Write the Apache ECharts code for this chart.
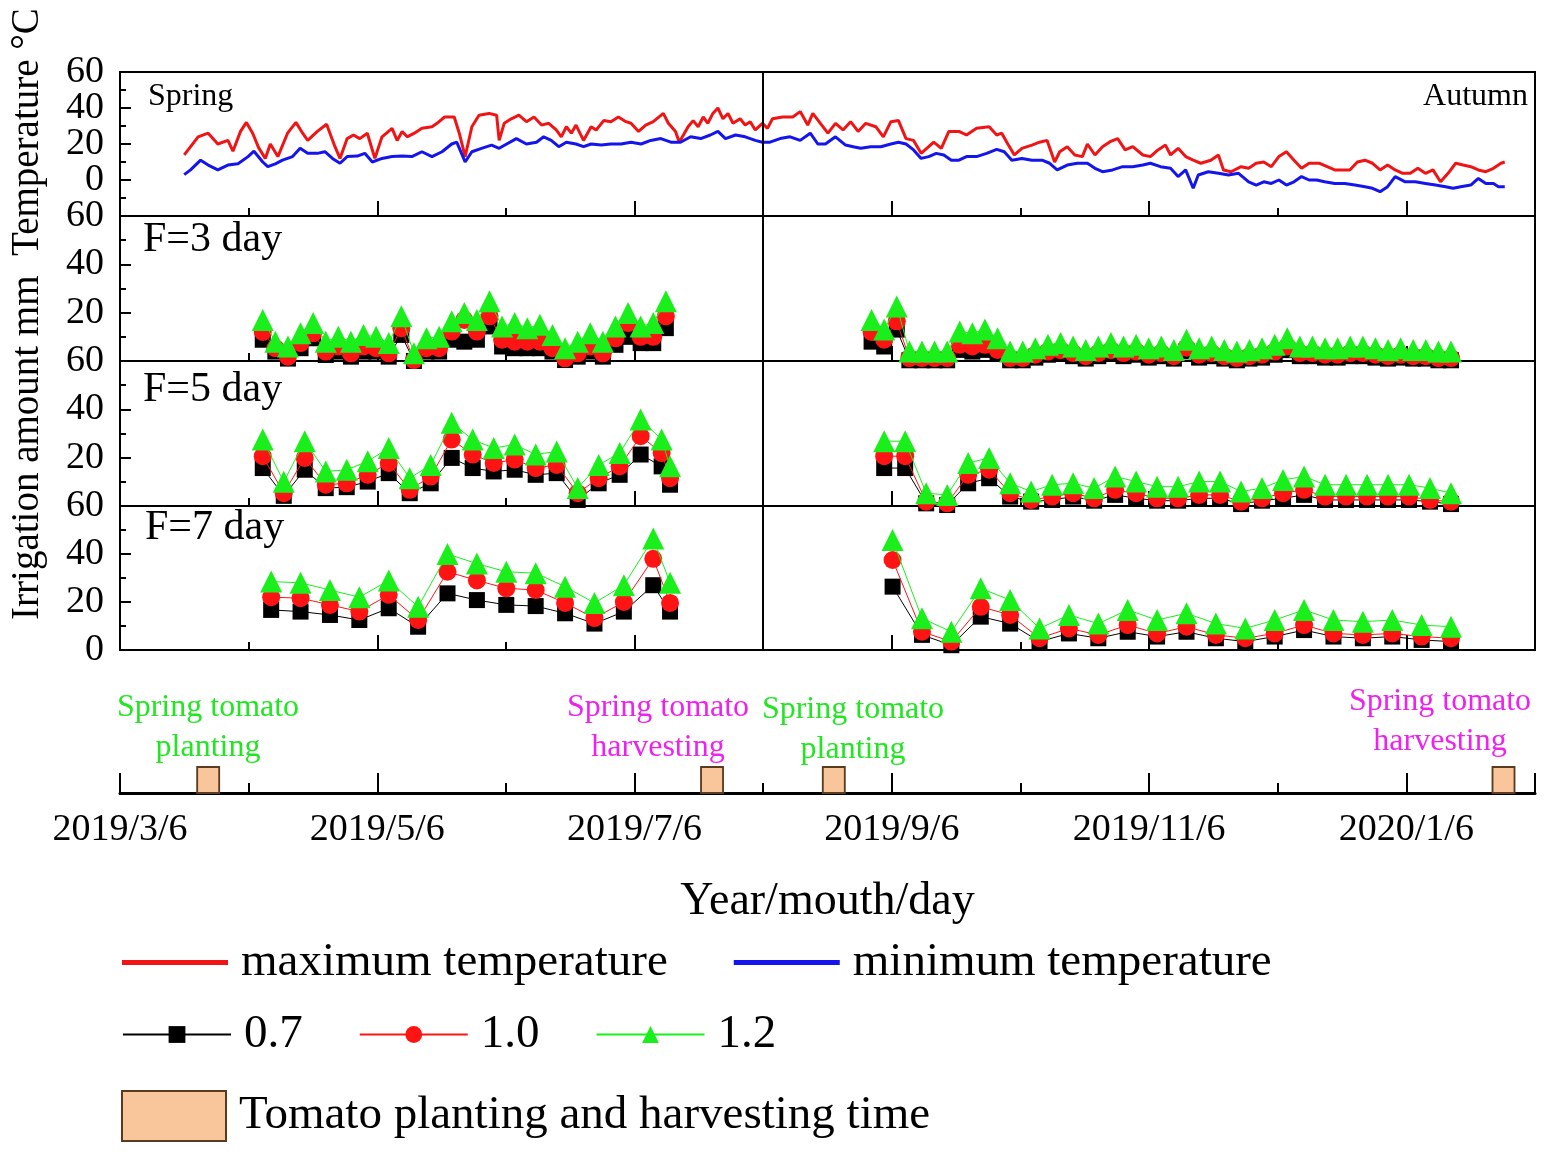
<!DOCTYPE html>
<html>
<head>
<meta charset="utf-8">
<script src="https://cdn.jsdelivr.net/npm/echarts/dist/echarts.min.js"></script>
<style>
html,body{margin:0;padding:0;background:#fff;}
#main{width:1547px;height:1155px;}
</style>
</head>
<body>
<div id="main"></div>
<script>
// x values are days counted from 2019/3/6
var tickLabels = ['2019/3/6','2019/4/6','2019/5/6','2019/6/6','2019/7/6','2019/8/6',
                  '2019/9/6','2019/10/6','2019/11/6','2019/12/6','2020/1/6','2020/2/6'];
var xMax = 337;            // 2020/2/6
var seasonSplit = 153;     // 2019/8/6

// daily max / min temperature, [day, °C]
var tmax = [[15.3,14],[18.6,24],[21,26],[23.3,20],[25.7,22],[26.9,16],[28.7,27],[30.1,32],[31.6,26],[33,18],[34.6,12],[35.8,20],[37.6,13],[39.9,26],[41.9,32],[43.5,26],[44.7,22],[47,27],[49.2,31],[51.2,18.5],[52.4,12],[54.1,23],[55.6,25],[57.1,23],[58.9,26],[60.7,12],[62.4,24],[64.8,28.7],[66,22],[67.2,27],[68.4,24],[70.1,26],[71.9,28.7],[74.3,29.6],[75.5,31.5],[77.3,35],[79.6,35],[80.8,26],[82.2,13],[83.8,29.6],[85.5,36],[87.9,37],[89.7,36],[90.3,22],[91.5,31.5],[93.2,34],[95,36],[96.8,32.4],[98.6,35],[100.4,30.5],[102.1,31.5],[103.9,27.8],[105.1,24],[106.3,29.6],[107.5,26],[108.6,30.5],[110.4,22],[112.2,29.6],[113.4,27.8],[115.2,33],[116.9,32.4],[118.7,35],[120.5,32.4],[121.7,31.5],[123.5,27],[125.2,30.5],[127,32.4],[129.4,37],[130.6,31.5],[132.3,27],[133.2,21],[135.3,29.6],[136.5,33],[137.7,29.6],[138.9,35],[140,31.5],[141.2,37],[142.4,40],[143.6,34],[144.8,37],[146,31.5],[147.7,34],[148.9,30.5],[150.1,32.4],[151.3,27.8],[153,31.5],
  [154.2,28.7],[155.4,34],[157.8,35],[160.2,35],[162,38],[163.8,30.5],[165,37],[166.8,31.5],[168.6,26],[170.4,31.5],[172.2,27.8],[174,32.4],[175.8,27],[177.6,31.5],[180,29.6],[181.8,24],[183.6,32.4],[185.4,33],[187.2,23],[189,22],[190.8,14.8],[192.6,18.5],[193.8,21],[195.6,17.6],[197.4,27],[199.8,27],[201.6,25],[204,28.7],[207,29.6],[208.8,25],[210,26],[211.2,21],[213,13.9],[214.8,17.6],[217.2,19.4],[219,21],[220.8,22],[222.6,10],[223.8,15.7],[225.6,18.5],[227.4,13.9],[229.2,13],[230.4,20],[232.2,13.9],[234,18.5],[235.8,21.3],[237.6,23],[239.4,16.7],[241.2,18.5],[243.6,13.9],[245.4,13],[247.2,16.7],[249,19.4],[250.2,13.9],[252,17.6],[253.8,13],[255.6,11],[257.4,9.3],[259.8,11],[261.6,13.9],[262.8,5.6],[264.6,4.6],[267,7.4],[268.8,6.5],[270.6,9.3],[272.4,10],[274.2,7.4],[276,13],[277.8,15.7],[279.6,11],[281.4,6.5],[283.2,9.3],[285.7,9.3],[287.5,7.4],[289.3,5.6],[291.1,5.6],[292.9,5.6],[294.7,10],[296.5,11],[298.3,9.3],[300.1,5.6],[301.9,8.3],[303.7,5.6],[305.5,3.7],[307.3,3.7],[309.1,6.5],[310.9,3.7],[312.7,5.6],[314.5,-1],[316.3,3.7],[318.1,9.3],[319.9,8.3],[321.7,7.4],[323.5,5.6],[325.3,4.6],[327.1,6.5],[328.9,9.3],[329.8,10]];
var tmin = [[15.3,3],[16.8,5.6],[19.2,11],[21,8.3],[23.3,5.6],[25.7,8.3],[28.1,9],[30.5,13],[31.9,16],[34,10],[35.2,7.4],[37,9],[38.7,11],[41.1,13],[42.9,17.6],[44.7,14.8],[47,14.8],[48.8,15.7],[50.6,12],[52.4,9.3],[54.1,13],[56.5,13.3],[58.3,14.8],[60.1,10],[62.4,12],[64.8,13],[67.2,13.3],[69.5,13],[71.9,15.7],[74.3,13],[76.7,15.7],[79,20],[80.2,21],[82.2,10],[83.8,15.7],[86.1,17.6],[88.5,19.4],[90.3,17.6],[92.1,20],[94.4,23],[96.8,20],[99.2,21],[100.9,24],[102.7,22],[104.5,18.5],[106.3,21],[108.6,20],[110.4,18.5],[112.2,20],[114.6,19.4],[116.9,20],[119.3,20],[121.7,21],[124.1,20],[126.4,22],[128.8,23],[131.2,21],[133.5,21],[135.9,24],[138.3,23],[140.6,25],[142.4,27],[144.2,23],[146.6,25],[148.9,24],[151.3,22],[153,21],
  [154.8,21],[157.2,23],[159.6,24],[162,22],[164.4,26],[166.2,20],[168,20],[170.4,24],[172.8,19.4],[174.6,18.5],[176.4,17.6],[178.8,18.5],[181.2,18.5],[183.6,20],[185.4,21],[187.2,20],[189,16.7],[190.8,12],[192.6,13],[194.4,14.8],[196.2,13.9],[198,11],[199.8,11],[201.6,13],[204,13],[206.4,14.8],[208.8,17],[210.6,15.7],[212.4,11],[214.8,12],[217.2,11],[219.6,11],[221.4,9.3],[223.2,5.6],[225.6,8.3],[228,9.3],[230.4,9.3],[232.2,6.5],[234,4.6],[236.4,5.6],[238.8,7.4],[241.2,7.4],[243.6,8.3],[245.4,9.3],[247.8,7.4],[250.2,6.5],[252,1.9],[253.8,5.6],[255.6,-4.6],[256.8,2.8],[259.2,4.6],[261.6,3.7],[264,2.8],[266.4,3.7],[268.8,-1],[270.6,-2.8],[272.4,-1],[274.2,-1.9],[276,0],[277.8,-2.8],[279.6,-1],[281.4,1.9],[283.2,0],[285,0],[286.9,-1],[289.3,-1.9],[291.7,-1.9],[294.1,-2.8],[296.5,-3.7],[298.3,-4.6],[300.1,-6.5],[301.9,-3.7],[303.7,1.9],[306.1,-1],[308.5,-1],[310.9,-1.9],[313.3,-2.8],[315.7,-3.7],[317.5,-4.6],[319.3,-3.7],[321.7,-2.8],[323.5,0.9],[325.3,-1.9],[327.1,-1.9],[328.3,-3.7],[329.8,-3.7]];

// irrigation amount (mm), F=3 day
var f3SpringDays = [34,37,40,43,46,49,52,55,58,61,64,67,70,73,76,79,82,85,88,91,94,97,100,103,106,109,112,115,118,121,124,127,130];
var f3Spring07 = [8.8,3.9,1,5.3,9.4,2.5,3.9,1.8,3.9,3.9,1.8,10.8,0,3.9,3.9,8.8,8,8.8,14.3,6,5.3,5.3,5.3,3.9,0.4,1.8,3.9,1.8,6.7,10,7.4,7.4,13.6];
var f3Spring10 = [12,5.3,1.8,7.4,11.5,3.9,6,3.2,6,5.3,3.2,13.6,0.4,5.3,5.3,12.2,17,12.2,18.5,8.8,8,8,8,5.3,1.1,3.2,6,3.2,9.4,15.7,10,10,18.5];
var f3Spring12 = [17,8,6,11.5,15.7,8,10,8,10.8,10,7.4,18.5,3.2,9.4,10,16.4,19.9,17,24.7,14.3,15.7,13.6,15,10.8,5.3,8,11.5,8,14.3,19.9,14.3,15.7,24.7];
var f3AutumnDays = [179,182,185,188,191,194,197,200,203,206,209,212,215,218,221,224,227,230,233,236,239,242,245,248,251,254,257,260,263,266,269,272,275,278,281,284,287,290,293,296,299,302,305,308,311,314,317];
var f3Autumn07 = [8,6,13,0.3,0.3,0.3,0.3,4.6,3.9,4.6,3.2,0.3,0.3,1.4,2.6,3.2,2,1,2,3.2,2,2.6,1.4,2,1,4,1.4,2,1,0.3,1,1.4,2.6,4.5,2,2,1.4,1.4,2,2,1.4,1,1.4,1,1,0.3,0.3];
var f3Autumn10 = [12,8.8,16.4,1.2,1.2,1.2,1.2,6.7,6,6.7,4.6,1.2,1.2,2.6,3.9,4.5,3.3,2,3.3,4.5,3.3,3.9,2.6,3.3,2,5.5,2.6,3.3,2,1.2,2,2.6,3.9,6,3.3,3.3,2.6,2.6,3.3,3.3,2.6,2,2.6,2,2,1.2,1.2];
var f3Autumn12 = [17,13,22.6,3.9,3.9,3.9,3.9,12.2,11.5,13,9.4,3.9,3.9,5.3,6.7,7.4,6,4.6,6,7.4,6,6.7,5.3,6,4.6,8.8,5.3,6,4.6,3.9,4.6,5.3,6.7,9.4,6,6,5.3,5.3,6,6,5.3,4.6,5.3,4.6,4.6,3.9,3.9];

// F=5 day
var f5SpringDays = [34,39,44,49,54,59,64,69,74,79,84,89,94,99,104,109,114,119,124,129,131];
var f5Spring07 = [15.7,4.2,15,7.4,7.8,10.1,13.6,5.3,9.4,19.9,15.7,14.3,15,12.9,13.6,2.5,9.4,12.9,21.3,16.4,8.8];
var f5Spring10 = [20.6,5.3,19.9,8.8,9.4,12.9,17.8,6.7,12.2,27.5,21.3,17.8,19.2,15.7,17,5.3,11.5,16.4,28.9,21.9,11.5];
var f5Spring12 = [27.5,10,26.8,14.3,15,18.5,24,11.5,17,34.4,27.5,24,25.4,21.3,22.6,7.4,17,21.9,35.8,27.5,16.4];
var f5AutumnDays = [182,187,192,197,202,207,212,217,222,227,232,237,242,247,252,257,262,267,272,277,282,287,292,297,302,307,312,317];
var f5Autumn07 = [15.7,15.7,1.1,0.4,9.4,11.5,3.9,1.8,2.5,3.9,2.2,4.6,3.2,2.2,2.2,3.2,3.2,0.8,2.2,3.2,4.6,2.5,2.5,2.5,2.5,2.5,1.8,0.8];
var f5Autumn10 = [20.6,20.6,1.8,1.1,12.9,15,5.3,2.5,3.9,5.3,3.2,6.7,5.3,3.2,3.2,4.6,4.6,1.8,3.2,5.3,6.7,3.9,3.9,3.9,3.9,3.9,2.5,1.8];
var f5Autumn12 = [26.8,26.8,5.3,4.6,17.8,19.9,9.4,6,8.8,9.4,7.4,12.2,10.1,8,8,10.1,10.1,6,7.4,10.8,12.2,8.8,8.8,8.8,8.8,8.8,7.4,5.3];

// F=7 day
var f7SpringDays = [36,43,50,57,64,71,78,85,92,99,106,113,120,127,131];
var f7Spring07 = [16.7,16,14.6,12.5,17.4,9.7,23.6,20.8,18.8,18.3,15.3,11,16,27,16];
var f7Spring10 = [22,21.6,18.8,16,23,12.5,32.6,29,25.7,25,19.6,13.3,20,38,19.6];
var f7Spring12 = [28.5,28,25,22,29,18,40,36,32.6,32,26.4,19.6,27,46.5,28];
var f7AutumnDays = [184,191,198,205,212,219,226,233,240,247,254,261,268,275,282,289,296,303,310,317];
var f7Autumn07 = [26.4,6.3,2,13.9,11,3.5,6.9,4.9,7.6,5.6,7.6,4.9,3.5,5.6,8.3,5.6,4.9,5.6,4.2,3.5];
var f7Autumn10 = [37.5,7.6,3.5,18,14.6,4.9,9,6.3,10.4,6.9,9.7,6.3,4.9,6.9,10.4,6.9,6.3,6.9,5.6,4.9];
var f7Autumn12 = [45.8,13.2,7.6,25.7,20.8,9,14.6,11,16.7,12.5,15.3,11,9,12.5,16.7,12.5,11.8,12.5,10.4,9.7];

// planting / harvesting dates
var boxDays = [21, 141, 170, 329.5];

var serif = '"Liberation Serif", "Times New Roman", serif';
var monthStep = xMax / 11;
var kcNames = ['0.7','1.0','1.2'];
var kcColors = ['#000000','#ff1414','#1bef1b'];
var kcSymbols = ['rect','circle','triangle'];
var kcSizes = [16, 18, 22];

var myChart = echarts.init(document.getElementById('main'));

var grids = [
  {left:120, right:12, top:72,  height:144},
  {left:120, right:12, top:216, height:145},
  {left:120, right:12, top:361, height:145},
  {left:120, right:12, top:506, height:144},
  {left:120, right:12, top:760, height:33}
];
grids.forEach(function(g, i){
  g.outerBoundsMode = 'none';
  g.show = i < 4;
  g.borderColor = '#000';
  g.borderWidth = 2;
  g.backgroundColor = 'transparent';
});

// two bottom axes per grid: long ticks (labelled months) + short ticks (every month)
var xAxes = [];
for (var g = 0; g < 5; g++) {
  var isTimeline = g === 4;
  xAxes.push({
    type:'value', gridIndex:g, position:'bottom', min:0, max:xMax, interval:monthStep*2,
    axisLine:{show:isTimeline, onZero:false, lineStyle:{color:'#000', width:3}},
    axisTick:{show:true, inside:true, length:isTimeline ? 20 : 15, lineStyle:{color:'#000', width:2}},
    axisLabel:{show:isTimeline, margin:18, fontFamily:serif, fontSize:38, color:'#000',
      formatter:function(v){
        var i = Math.round(v / monthStep);
        return i < tickLabels.length - 1 ? tickLabels[i] : '';
      }},
    splitLine:{show:false},
    name: isTimeline ? 'Year/mouth/day' : '',
    nameLocation:'middle', nameGap:86,
    nameTextStyle:{fontFamily:serif, fontSize:46, color:'#000'}
  });
  xAxes.push({
    type:'value', gridIndex:g, position:'bottom', min:0, max:xMax, interval:monthStep,
    axisLine:{show:false, onZero:false},
    axisTick:{show:true, inside:true, length:isTimeline ? 10 : 8, lineStyle:{color:'#000', width:2}},
    axisLabel:{show:false},
    splitLine:{show:false}
  });
}

var yLabelStyle = {margin:16, fontFamily:serif, fontSize:38, color:'#000'};
function yAxisFor(g, min, shown) {
  return {
    type:'value', gridIndex:g, min:min, max:60, interval:20,
    axisLine:{show:false},
    axisTick:{show:true, inside:true, length:11, lineStyle:{color:'#000', width:2}},
    minorTick:{show:true, splitNumber:2, length:6, lineStyle:{color:'#000', width:2}},
    axisLabel:Object.assign({
      showMinLabel:false,
      formatter:function(v){ return shown.indexOf(v) >= 0 ? String(v) : ''; }}, yLabelStyle),
    splitLine:{show:false}
  };
}
var yAxes = [
  yAxisFor(0, -20, [0, 20, 40]),
  yAxisFor(1, 0, [20, 40, 60]),
  yAxisFor(2, 0, [20, 40, 60]),
  yAxisFor(3, 0, [20, 40, 60]),
  {type:'value', gridIndex:4, min:0, max:1, show:false},
  // top "60" of the temperature panel, kept on its own axis so it does not collide with "40"
  {type:'value', gridIndex:0, position:'left', min:-20, max:60, interval:80,
   axisLine:{show:false}, axisTick:{show:false}, splitLine:{show:false},
   axisLabel:Object.assign({formatter:function(v){ return v === 60 ? '60' : ''; }}, yLabelStyle)}
];
// the bottom panel also shows its 0
yAxes[3].axisLabel.showMinLabel = true;
yAxes[3].axisLabel.formatter = function(v){ return String(v); };

var divider = {
  silent:true, symbol:'none', animation:false,
  label:{show:false},
  lineStyle:{color:'#000', type:'solid', width:2},
  data:[{xAxis:seasonSplit}]
};

var series = [
  {name:'maximum temperature', type:'line', xAxisIndex:0, yAxisIndex:0, data:tmax,
   symbol:'none', color:'#f01414', lineStyle:{color:'#f01414', width:3}, markLine:divider, z:3},
  {name:'minimum temperature', type:'line', xAxisIndex:0, yAxisIndex:0, data:tmin,
   symbol:'none', color:'#1414ec', lineStyle:{color:'#1414ec', width:3}, z:3}
];

function pairs(days, vals) {
  return days.map(function(d, i){ return [d, vals[i]]; });
}

var panels = [
  {grid:1, seasons:[[f3SpringDays,[f3Spring07,f3Spring10,f3Spring12]],[f3AutumnDays,[f3Autumn07,f3Autumn10,f3Autumn12]]]},
  {grid:2, seasons:[[f5SpringDays,[f5Spring07,f5Spring10,f5Spring12]],[f5AutumnDays,[f5Autumn07,f5Autumn10,f5Autumn12]]]},
  {grid:3, seasons:[[f7SpringDays,[f7Spring07,f7Spring10,f7Spring12]],[f7AutumnDays,[f7Autumn07,f7Autumn10,f7Autumn12]]]}
];
panels.forEach(function(p){
  var first = true;
  for (var k = 0; k < 3; k++) {
    p.seasons.forEach(function(s){
      var item = {
        name:kcNames[k], type:'line', xAxisIndex:p.grid*2, yAxisIndex:p.grid,
        data:pairs(s[0], s[1][k]),
        symbol:kcSymbols[k], symbolSize:kcSizes[k], showAllSymbol:true,
        color:kcColors[k],
        itemStyle:{color:kcColors[k]},
        lineStyle:{color:kcColors[k], width:1},
        z:3 + k
      };
      if (first) { item.markLine = divider; first = false; }
      series.push(item);
    });
  }
});

series.push({
  name:'Tomato planting and harvesting time', type:'scatter', xAxisIndex:8, yAxisIndex:4,
  data:boxDays.map(function(d){ return [d, 0]; }),
  symbol:'rect', symbolSize:[22,26], symbolOffset:[0,'-50%'],
  itemStyle:{color:'#f9c59a', borderColor:'#5b3b1e', borderWidth:2, opacity:1},
  z:5
});

var txt = function(x, y, text, size, fill, align, extra){
  var o = {type:'text', x:x, y:y, silent:true,
    style:{text:text, fontFamily:serif, fontSize:size, fill:fill || '#000',
           align:align || 'left', verticalAlign:'middle', lineHeight:40}};
  if (extra) for (var key in extra) o[key] = extra[key];
  return o;
};

var legendText = {fontFamily:serif, fontSize:47, color:'#000', padding:[0,0,0,8]};
var option = {
  animation:false,
  backgroundColor:'#fff',
  grid:grids,
  xAxis:xAxes,
  yAxis:yAxes,
  series:series,
  legend:[
    {left:117, top:934, itemWidth:106, itemHeight:5, itemGap:66, selectedMode:false,
     data:[{name:'maximum temperature', icon:'rect'},{name:'minimum temperature', icon:'rect'}],
     textStyle:legendText},
    {left:117, top:1006, itemWidth:108, itemHeight:21, itemGap:56, selectedMode:false,
     data:['0.7','1.0','1.2'],
     textStyle:legendText},
    {left:116, top:1085, itemWidth:104, itemHeight:50, selectedMode:false,
     data:[{name:'Tomato planting and harvesting time', icon:'rect'}],
     textStyle:legendText}
  ],
  graphic:[
    txt(148, 97, 'Spring', 32),
    txt(1528, 97, 'Autumn', 32, '#000', 'right'),
    txt(143, 240, 'F=3 day', 42),
    txt(143, 390, 'F=5 day', 42),
    txt(145, 528, 'F=7 day', 42),
    txt(208, 728, 'Spring tomato\nplanting', 32, '#22e622', 'center'),
    txt(658, 728, 'Spring tomato\nharvesting', 32, '#ee22ee', 'center'),
    txt(853, 730, 'Spring tomato\nplanting', 32, '#22e622', 'center'),
    txt(1440, 722, 'Spring tomato\nharvesting', 32, '#ee22ee', 'center'),
    txt(28, 314, 'Irrigation amount mm  Temperature \u00b0C', 39, '#000', 'center', {rotation:Math.PI/2})
  ]
};

myChart.setOption(option);
</script>
</body>
</html>
